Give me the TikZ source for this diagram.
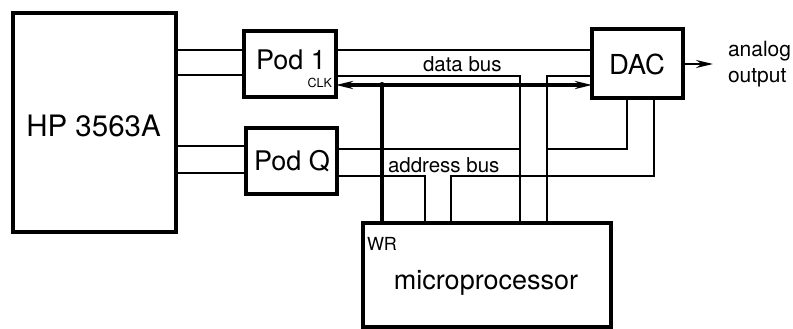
\documentclass[tikz,border=0pt]{standalone}
\usepackage{fontspec}
\setmainfont{TeX Gyre Heros}
\usetikzlibrary{arrows.meta}
\tikzset{
  box/.style={draw, line width=3.6pt, inner sep=0pt, outer sep=0pt},
  wire/.style={line width=1.2pt},
  bus/.style={line width=3.4pt},
  lbl/.style={inner sep=0pt, outer sep=0pt},
  tipp/.style={-{Stealth[length=17pt,width=8pt]}},
}
\newcommand{\fs}[1]{\fontsize{#1}{#1}\selectfont}
\begin{document}
\begin{tikzpicture}[x=1pt,y=-1pt]
\useasboundingbox (0,0) rectangle (793,329);
% boxes
\node[box, minimum width=163pt, minimum height=219pt] (hp) at (94.5,122.5) {};
\node[box, minimum width=92pt, minimum height=66pt] (p1) at (290,64) {};
\node[box, minimum width=91pt, minimum height=66pt] (pq) at (291.5,161) {};
\node[box, minimum width=91pt, minimum height=69pt] (dac) at (637.5,63.5) {};
\node[box, minimum width=248pt, minimum height=104pt] (mp) at (487,275) {};
% labels
\node[lbl, font=\fs{29.5}] (hpt) at (93.5,126) {HP 3563A};
\node[lbl, font=\fs{27}, anchor=base] (p1t) at (291,70) {Pod 1};
\node[lbl, font=\fs{27}, anchor=base] (pqt) at (292,170) {Pod Q};
\node[lbl, font=\fs{27.5}, anchor=base] (dact) at (637,75) {DAC};
\node[lbl, font=\fs{27}, anchor=base] (mpt) at (486,289) {microprocessor};
\node[lbl, font=\fs{18}, anchor=base west] (wrt) at (367,250) {WR};
\node[lbl, font=\fs{12.5}, anchor=base east] (clkt) at (332,88) {CLK};
\node[lbl, font=\fs{20.5}, anchor=base west] (dbt) at (423,72) {data bus};
\node[lbl, font=\fs{20.5}, anchor=base west] (abt) at (388,172) {address bus};
\node[lbl, font=\fs{21}, anchor=base west] (ant) at (728,57) {analog};
\node[lbl, font=\fs{21}, anchor=base west] (out) at (728,82) {output};
% level coordinates
\coordinate (y50) at (0,50);
\coordinate (y75) at (0,75);
\coordinate (y76) at (0,76);
\coordinate (y85) at (0,85);
\coordinate (y146) at (0,146);
\coordinate (y149) at (0,149);
\coordinate (y173) at (0,173);
\coordinate (y176) at (0,176);
\coordinate (x382) at (382,0);
\coordinate (x425) at (425,0);
\coordinate (x451) at (451,0);
\coordinate (x520) at (520,0);
\coordinate (x547) at (547,0);
\coordinate (x627) at (627,0);
\coordinate (x654) at (654,0);
\coordinate (ao) at (713,64);
% HP to pods
\draw[wire] (hp.east |- y50) -- (p1.west |- y50);
\draw[wire] (hp.east |- y75) -- (p1.west |- y75);
\draw[wire] (hp.east |- y146) -- (pq.west |- y146);
\draw[wire] (hp.east |- y173) -- (pq.west |- y173);
% Pod 1 to DAC / micro
\draw[wire] (p1.east |- y50) -- (dac.west |- y50);
\draw[wire] (p1.east |- y76) -| (x520 |- mp.north);
\draw[wire] (dac.west |- y76) -| (x547 |- mp.north);
% Pod Q and DAC lines
\draw[wire] (pq.east |- y149) -- (x520 |- y149);
\draw[wire] (x627 |- dac.south) |- (x547 |- y149);
\draw[wire] (pq.east |- y176) -| (x425 |- mp.north);
\draw[wire] (x654 |- dac.south) |- (x451 |- y176) -- (x451 |- mp.north);
% WR / CLK / data bus
\coordinate (jn) at (x382 |- y85);
\draw[bus] (x382 |- mp.north) -- (jn);
\draw[bus, tipp] (jn) -- (p1.east |- y85);
\draw[bus, tipp] (jn) -- (dac.west |- y85);
\fill (jn) circle (3pt);
% analog output
\draw[line width=2pt, tipp] (dac.east |- ao) -- (ao);
\end{tikzpicture}
\end{document}
